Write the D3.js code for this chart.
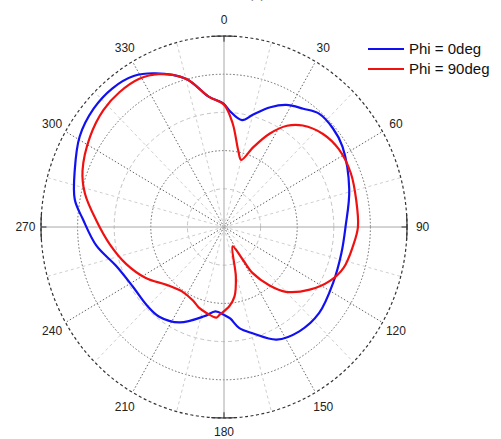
<!DOCTYPE html>
<html>
<head>
<meta charset="utf-8">
<script src="https://cdn.jsdelivr.net/npm/d3@7"></script>
<style>
  body { margin: 0; background: #fff; }
  svg { display: block; font-family: Arial, "Liberation Sans", sans-serif; }
</style>
</head>
<body>
<div id="chart"></div>
<script>
// radiation pattern, gain in dB
const phi0Angles = [0, 3, 10, 15, 22, 28, 35, 41, 49, 57, 74, 90, 102, 116, 131, 143, 154, 164, 171, 176, 180, 186, 193, 206, 217, 226, 238, 251, 262, 273, 280, 290, 301, 311, 320, 328, 335, 345, 353];
const phi0Gain = [-8.9, -9.8, -10.8, -9.8, -8.1, -6.9, -6.1, -5.3, -5.3, -5.7, -7.2, -8.4, -8.6, -8.4, -7.8, -7.9, -8.6, -10.5, -11.6, -13.0, -13.5, -13.9, -13.0, -11.1, -10.3, -10.3, -10.3, -9.4, -7.4, -5.7, -4.3, -3.3, -2.0, -1.4, -1.3, -1.7, -2.8, -4.9, -7.8];

const phi90Angles = [0, 5, 11, 15, 21, 27, 33, 39, 48, 57, 68, 79, 90, 98, 108, 116, 125, 135, 141, 147, 149, 155, 166, 171, 176, 183, 185, 192, 198, 204, 214, 226, 238, 250, 262, 273, 283, 291, 303, 313, 321, 329, 336, 345, 353];
const phi90Gain = [-9.0, -11.4, -14.8, -15.9, -13.8, -11.3, -9.2, -7.9, -6.8, -6.3, -6.3, -6.6, -6.7, -7.2, -7.8, -8.9, -10.7, -13.0, -15.2, -17.8, -20.0, -22.2, -18.3, -15.8, -14.6, -13.5, -13.1, -13.5, -13.9, -14.5, -14.8, -14.1, -12.4, -10.8, -9.2, -7.5, -5.5, -4.3, -3.2, -2.5, -2.3, -2.4, -3.1, -4.9, -7.8];

const angleTicks = [0, 30, 60, 90, 120, 150, 180, 210, 240, 270, 300, 330];
const ringTicks = [-20, -15, -10, -5];
const seriesNames = ['Phi = 0deg', 'Phi = 90deg'];
const seriesColors = ['#1010f0', '#f01010'];

const width = 501, height = 439;
const cx = 224, cy = 227;
const rx = 183, ry = 191; // the plot is a bit squashed sideways

const svg = d3.select('#chart').append('svg')
  .attr('width', width)
  .attr('height', height);

const g = svg.append('g').attr('transform', `translate(${cx},${cy})`);

const rScale = d3.scaleLinear().domain([-25, 0]).range([0, 1]).clamp(true);
const rad = d => d * Math.PI / 180;
const px = (deg, r) => rx * r * Math.sin(rad(deg));
const py = (deg, r) => -ry * r * Math.cos(rad(deg));

// title, clipped at the top edge
svg.append('text')
  .attr('x', 257).attr('y', -2)
  .attr('text-anchor', 'middle')
  .style('font-size', '13px')
  .style('fill', '#777')
  .text('(a)');

// rings
ringTicks.forEach((t, i) => {
  const dark = i % 2 === 1;
  g.append('ellipse')
    .attr('rx', rx * rScale(t))
    .attr('ry', ry * rScale(t))
    .attr('fill', 'none')
    .attr('stroke', dark ? '#666' : '#c4c4c4')
    .attr('stroke-width', 1)
    .attr('stroke-dasharray', dark ? '1.5,2' : '4,3');
});

// spokes
d3.range(0, 360, 15).forEach(a => {
  let stroke = '#cfcfcf', dash = '3,3';
  if (a % 90 === 0) { stroke = '#a8a8a8'; dash = null; }
  else if (a % 30 === 0) { stroke = '#666'; dash = '1.5,2'; }
  g.append('line')
    .attr('x1', 0).attr('y1', 0)
    .attr('x2', px(a, 1)).attr('y2', py(a, 1))
    .attr('stroke', stroke)
    .attr('stroke-width', 1)
    .attr('stroke-dasharray', dash);
});

// outer ring
g.append('ellipse')
  .attr('rx', rx).attr('ry', ry)
  .attr('fill', 'none')
  .attr('stroke', '#333')
  .attr('stroke-width', 1.2)
  .attr('stroke-dasharray', '3,2.5');

// solid bits of the outer ring at the four axes
const tickArc = d3.line().x(d => px(d, 1)).y(d => py(d, 1));
[0, 90, 180, 270].forEach(a => {
  g.append('path')
    .attr('d', tickArc(d3.range(a - 4, a + 4.01, 1)))
    .attr('fill', 'none')
    .attr('stroke', '#333')
    .attr('stroke-width', 1.2);
  g.append('line')
    .attr('x1', px(a, 0.97)).attr('y1', py(a, 0.97))
    .attr('x2', px(a, 1)).attr('y2', py(a, 1))
    .attr('stroke', '#333');
});

// angle labels
g.selectAll('.angle-label')
  .data(angleTicks)
  .enter()
  .append('text')
  .attr('class', 'angle-label')
  .attr('x', d => px(d, 1.085))
  .attr('y', d => py(d, d === 180 ? 1.073 : 1.085))
  .attr('text-anchor', 'middle')
  .attr('dy', '0.35em')
  .style('font-size', '12px')
  .style('fill', '#222')
  .text(d => d);

// pattern curves
const line = d3.line()
  .x(d => px(d[0], rScale(d[1])))
  .y(d => py(d[0], rScale(d[1])))
  .curve(d3.curveCatmullRomClosed.alpha(0.5));

const series = [
  d3.zip(phi0Angles, phi0Gain),
  d3.zip(phi90Angles, phi90Gain)
];

series.forEach((pts, i) => {
  g.append('path')
    .attr('d', line(pts))
    .attr('fill', 'none')
    .attr('stroke', seriesColors[i])
    .attr('stroke-width', 2.2)
    .attr('stroke-linejoin', 'round');
});

// legend
const legend = svg.append('g').attr('transform', 'translate(368,49)');
seriesNames.forEach((name, i) => {
  legend.append('line')
    .attr('x1', 0).attr('x2', 36)
    .attr('y1', i * 20).attr('y2', i * 20)
    .attr('stroke', seriesColors[i])
    .attr('stroke-width', 2.2);
  legend.append('text')
    .attr('x', 41)
    .attr('y', i * 20)
    .attr('dy', '0.36em')
    .style('font-size', '15px')
    .style('fill', '#111')
    .text(name);
});
</script>
</body>
</html>
